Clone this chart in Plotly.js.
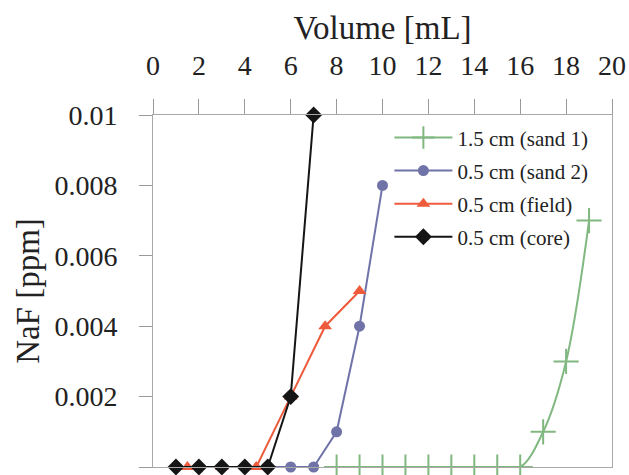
<!DOCTYPE html>
<html>
<head>
<meta charset="utf-8">
<script src="https://cdn.plot.ly/plotly-3.0.1.min.js"></script>
<style>html,body{margin:0;padding:0;background:#fff;}#chart{width:629px;height:475px;}</style>
</head>
<body>
<div id="chart"></div>
<script>
// Data
const seriesNames = ["1.5 cm (sand 1)", "0.5 cm (sand 2)", "0.5 cm (field)", "0.5 cm (core)"];
const sand1X = [8, 9, 10, 11, 12, 13, 14, 15, 16, 17, 18, 19];
const sand1Y = [0, 0, 0, 0, 0, 0, 0, 0, 0, 0.001, 0.003, 0.007];
const sand2X = [5, 6, 7, 8, 9, 10];
const sand2Y = [0, 0, 0, 0.001, 0.004, 0.008];
const fieldX = [1.5, 3, 4.5, 6, 7.5, 9];
const fieldY = [0, 0, 0, 0.002, 0.004, 0.005];
const coreX = [1, 2, 3, 4, 5, 6, 7];
const coreY = [0, 0, 0, 0, 0, 0.002, 0.01];
const xTickVals = [0, 2, 4, 6, 8, 10, 12, 14, 16, 18, 20];
const yTickVals = [0, 0.002, 0.004, 0.006, 0.008, 0.01];
const yTickText = ["0", "0.002", "0.004", "0.006", "0.008", "0.01"];

const serif = "'Liberation Serif', 'Times New Roman', 'DejaVu Serif', serif";
const traces = [
  {x: sand1X, y: sand1Y, name: seriesNames[0], mode: "lines+markers", legend: "legend",
   line: {color: "#80b880", width: 2, shape: "spline"},
   marker: {symbol: "cross-thin", size: 18, line: {color: "#80b880", width: 2}, color: "#80b880"}},
  {x: sand2X, y: sand2Y, name: seriesNames[1], mode: "lines+markers", legend: "legend2",
   line: {color: "#6f73a8", width: 2},
   marker: {symbol: "circle", size: 11, color: "#6f73a8"}},
  {x: fieldX, y: fieldY, name: seriesNames[2], mode: "lines+markers", legend: "legend3",
   line: {color: "#ee5a3c", width: 2},
   marker: {symbol: "triangle-up", size: 12, color: "#ee5a3c"}},
  {x: coreX, y: coreY, name: seriesNames[3], mode: "lines+markers", legend: "legend4",
   line: {color: "#151515", width: 2},
   marker: {symbol: "diamond", size: 13, color: "#151515"}}
];

function leg(y) {
  return {x: 0.515, xanchor: "left", y: y, yanchor: "middle", bgcolor: "rgba(0,0,0,0)",
          font: {family: serif, size: 21, color: "#222"}, itemwidth: 58};
}

const layout = {
  width: 629, height: 475,
  margin: {l: 153, r: 17, t: 115, b: 8},
  paper_bgcolor: "#fff", plot_bgcolor: "#fff",
  font: {family: serif, color: "#222"},
  showlegend: true,
  legend: leg(0.935), legend2: leg(0.841), legend3: leg(0.747), legend4: leg(0.653),
  xaxis: {
    side: "top", range: [0, 20], tickvals: xTickVals,
    ticks: "outside", ticklen: 15, tickcolor: "#999", tickwidth: 1,
    ticklabelstandoff: 13,
    showline: true, linecolor: "#a8a8a8", linewidth: 1, mirror: true,
    showgrid: false, zeroline: false,
    tickfont: {family: serif, size: 28, color: "#222"},
    title: {text: "Volume [mL]", font: {family: serif, size: 33, color: "#222"}, standoff: 0}
  },
  yaxis: {
    range: [0, 0.01], tickvals: yTickVals, ticktext: yTickText,
    ticks: "outside", ticklen: 13, tickcolor: "#999", tickwidth: 1,
    ticklabelstandoff: 16,
    showline: true, linecolor: "#a8a8a8", linewidth: 1, mirror: true,
    showgrid: false, zeroline: false,
    tickfont: {family: serif, size: 28, color: "#222"},
    title: {text: "NaF [ppm]", font: {family: serif, size: 33, color: "#222"}, standoff: 4}
  }
};

traces.forEach(t => t.cliponaxis = false);
Plotly.newPlot("chart", traces, layout, {displayModeBar: false, staticPlot: true});
</script>
</body>
</html>
